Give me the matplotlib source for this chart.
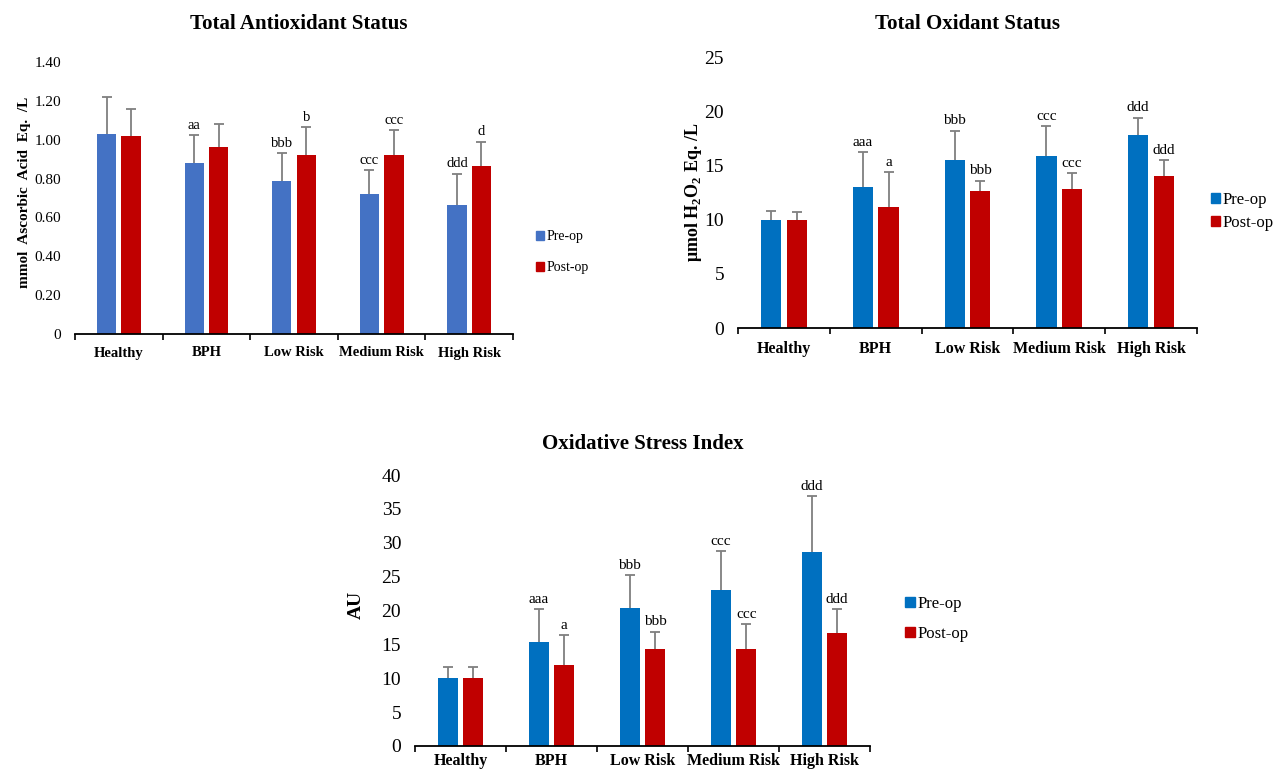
import numpy as np
import matplotlib.pyplot as plt
from matplotlib.patches import Patch
from matplotlib.ticker import FuncFormatter

plt.rcParams['font.family'] = ['Liberation Serif', 'DejaVu Serif']
plt.rcParams['mathtext.fontset'] = 'custom'
plt.rcParams['mathtext.rm'] = 'Liberation Serif'
plt.rcParams['mathtext.bf'] = 'Liberation Serif:bold'

groups = ["Healthy", "BPH", "Low Risk", "Medium Risk", "High Risk"]

# Total antioxidant status (mmol ascorbic acid eq./L)
tas_pre = [1.03, 0.88, 0.79, 0.72, 0.665]
tas_pre_sd = [0.19, 0.145, 0.14, 0.125, 0.16]
tas_post = [1.02, 0.965, 0.92, 0.92, 0.865]
tas_post_sd = [0.14, 0.115, 0.145, 0.13, 0.125]
tas_pre_sig = ["", "aa", "bbb", "ccc", "ddd"]
tas_post_sig = ["", "", "b", "ccc", "d"]

# Total oxidant status (umol H2O2 eq./L)
tos_pre = [10.0, 13.0, 15.5, 15.9, 17.8]
tos_pre_sd = [0.8, 3.2, 2.7, 2.7, 1.6]
tos_post = [10.0, 11.2, 12.6, 12.8, 14.0]
tos_post_sd = [0.7, 3.2, 1.0, 1.5, 1.5]
tos_pre_sig = ["", "aaa", "bbb", "ccc", "ddd"]
tos_post_sig = ["", "a", "bbb", "ccc", "ddd"]

# Oxidative stress index (AU)
osi_pre = [10.0, 15.4, 20.3, 23.0, 28.6]
osi_pre_sd = [1.7, 4.8, 4.9, 5.8, 8.3]
osi_post = [10.0, 12.0, 14.3, 14.3, 16.7]
osi_post_sd = [1.7, 4.4, 2.6, 3.7, 3.5]
osi_pre_sig = ["", "aaa", "bbb", "ccc", "ddd"]
osi_post_sig = ["", "a", "bbb", "ccc", "ddd"]

W, H = 1276, 771
fig = plt.figure(figsize=(W / 100, H / 100), dpi=100)


def px_axes(x0, x1, y_top, y_bot):
    return fig.add_axes([x0 / W, 1 - y_bot / H, (x1 - x0) / W, (y_bot - y_top) / H])


def upper_err(ax, xs, vals, sds):
    # one-sided error bars: stem from bar top plus a cap on the upper end only
    vals, sds = np.asarray(vals), np.asarray(sds)
    ax.vlines(xs, vals, vals + sds, color='#7f7f7f', lw=1.3, zorder=1)
    ax.plot(xs, vals + sds, ls='none', marker='_', ms=7, mew=1.3,
            color='#7f7f7f', zorder=1)


def panel(ax, pre, pre_sd, post, post_sd, pre_sig, post_sig, c_pre, c_post,
          ymax, ystep, fmt, tick_fs, cat_fs, sig_fs, title, ylabel, ylab_fs, tpad):
    x = np.arange(len(groups))
    w, off = 0.22, 0.14
    ax.bar(x - off, pre, w, color=c_pre, zorder=2)
    ax.bar(x + off, post, w, color=c_post, zorder=2)
    upper_err(ax, x - off, pre, pre_sd)
    upper_err(ax, x + off, post, post_sd)
    pad = ymax * 0.012
    for i in x:
        if pre_sig[i]:
            ax.text(i - off, pre[i] + pre_sd[i] + pad, pre_sig[i], ha='center',
                    va='bottom', fontsize=sig_fs)
        if post_sig[i]:
            ax.text(i + off, post[i] + post_sd[i] + pad, post_sig[i], ha='center',
                    va='bottom', fontsize=sig_fs)
    ax.set_xlim(-0.5, len(groups) - 0.5)
    ax.set_ylim(0, ymax)
    ax.set_yticks(np.arange(0, ymax + ystep / 2, ystep))
    ax.yaxis.set_major_formatter(FuncFormatter(fmt))
    ax.set_xticks(x)
    ax.set_xticklabels(groups, fontweight='bold', fontsize=cat_fs)
    ax.set_xticks(np.arange(-0.5, len(groups)), minor=True)
    ax.tick_params(axis='x', which='major', length=0, pad=9)
    ax.tick_params(axis='x', which='minor', length=4, width=1.2, direction='out')
    ax.tick_params(axis='y', length=0, labelsize=tick_fs, pad=10)
    for s in ['left', 'right', 'top']:
        ax.spines[s].set_visible(False)
    ax.spines['bottom'].set_linewidth(1.3)
    ax.set_title(title, fontweight='bold', fontsize=15, pad=tpad)
    ax.set_ylabel(ylabel, fontweight='bold', fontsize=ylab_fs)


def add_legend(ax, c_pre, c_post, anchor, fs, spacing):
    ax.legend(handles=[Patch(color=c_pre, label='Pre-op'),
                       Patch(color=c_post, label='Post-op')],
              loc='center left', bbox_to_anchor=anchor, frameon=False,
              fontsize=fs, handlelength=0.55, handleheight=0.55,
              handletextpad=0.15, labelspacing=spacing)


# top left
ax1 = px_axes(75, 513, 62, 334)
panel(ax1, tas_pre, tas_pre_sd, tas_post, tas_post_sd, tas_pre_sig, tas_post_sig,
      '#4472c4', '#c00000', 1.4, 0.2,
      lambda v, p: "0" if v == 0 else f"{v:.2f}", 11, 10.5, 10.5,
      "Total Antioxidant Status", "mmol  Ascorbic  Acid  Eq.  /L", 11, 24)
ax1.title.set_position((0.51, 1))
ax1.yaxis.set_label_coords(-0.10, 0.52)
add_legend(ax1, '#4472c4', '#c00000', (1.025, 0.30), 10, 1.3)

# top right
ax2 = px_axes(738, 1197, 57, 328)
panel(ax2, tos_pre, tos_pre_sd, tos_post, tos_post_sd, tos_pre_sig, tos_post_sig,
      '#0070c0', '#c00000', 25, 5, lambda v, p: f"{v:.0f}", 14, 11.5, 11,
      "Total Oxidant Status", r"μmol H$_\mathbf{2}$O$_\mathbf{2}$ Eq. /L", 13, 20)
ax2.yaxis.set_label_coords(-0.075, 0.5)
add_legend(ax2, '#0070c0', '#c00000', (0.998, 0.43), 12, 0.45)

# bottom
ax3 = px_axes(415, 870, 475, 746)
panel(ax3, osi_pre, osi_pre_sd, osi_post, osi_post_sd, osi_pre_sig, osi_post_sig,
      '#0070c0', '#c00000', 40, 5, lambda v, p: f"{v:.0f}", 14, 11.5, 11,
      "Oxidative Stress Index", "AU", 14, 19)
ax3.tick_params(axis='x', which='major', pad=5)
ax3.yaxis.set_label_coords(-0.11, 0.52)
add_legend(ax3, '#0070c0', '#c00000', (1.045, 0.47), 12, 0.85)

fig.savefig("out.png", dpi=100)
